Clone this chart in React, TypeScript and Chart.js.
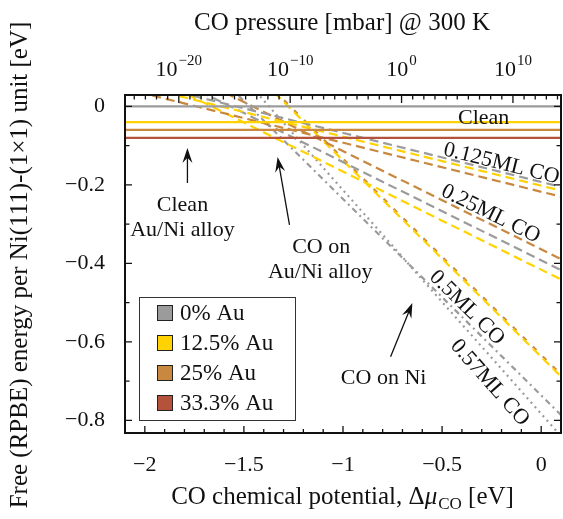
import React, { useEffect, useRef } from 'react';
import { Chart, registerables } from 'chart.js';
Chart.register(...registerables);

// ---------- data ----------
const X_MIN = -2.1;
const X_MAX = 0.1;
const Y_MIN = -0.832;
const Y_MAX = 0.029;

const xMajorLabels = [-2, -1.5, -1, -0.5, 0];
const yMajorLabels = [0, -0.2, -0.4, -0.6, -0.8];
const pressureDecadeLabels = [-20, -10, 0, 10];
const MU_AT_1_MBAR = -0.7045; // Δμ where p = 1 mbar
const MU_PER_DECADE = 0.0562;

const lineEndsX = [-2.1, 0.1];

const cleanAu0 = [0, 0];
const cleanAu125 = [-0.04, -0.04];
const cleanAu25 = [-0.06, -0.06];
const cleanAu333 = [-0.08, -0.08];

const co0125Au0 = [0.07, -0.205];
const co0125Au125 = [0.0605, -0.2145];
const co0125Au25 = [0.045, -0.23];

const co025Au0 = [0.133, -0.417];
const co025Au125 = [0.109, -0.441];
const co025Au25 = [0.161, -0.389];

const co05Au0 = [0.314, -0.786];
const co05Au125 = [0.412, -0.688];
const co05Au25 = [0.417, -0.683];

const co057Au0 = [0.414, -0.84];

const legendNames = ['0% Au', '12.5% Au', '25% Au', '33.3% Au'];

// ---------- styles ----------
const GRAY = '#9b9b9b';
const YELLOW = '#ffd200';
const TAN = '#c8883f';
const RED = '#b5523b';
const legendColors = [GRAY, YELLOW, TAN, RED];
const FONT = "'Liberation Serif', 'Times New Roman', serif";
const TITLE_FS = 25;
const TICK_FS = 22;
const ANN_FS = 22;
const LEG_FS = 23;
const DASH = [9, 5];

function mk(vals: number[], color: string, dash: number[] | undefined, width = 2.2) {
  return {
    data: lineEndsX.map((x, i) => ({ x, y: vals[i] })),
    borderColor: color,
    backgroundColor: color,
    borderWidth: width,
    borderDash: dash || [],
    pointRadius: 0,
    fill: false,
    tension: 0,
  };
}

function drawArrow(ctx: CanvasRenderingContext2D, x1: number, y1: number, x2: number, y2: number) {
  const ang = Math.atan2(y2 - y1, x2 - x1);
  const c = Math.cos(ang), s = Math.sin(ang);
  const L = 15, W = 5;
  ctx.save();
  ctx.strokeStyle = '#111';
  ctx.fillStyle = '#111';
  ctx.lineWidth = 1.3;
  ctx.beginPath();
  ctx.moveTo(x1, y1);
  ctx.lineTo(x2 - 8 * c, y2 - 8 * s);
  ctx.stroke();
  ctx.beginPath();
  ctx.moveTo(x2, y2);
  ctx.lineTo(x2 - L * c + W * s, y2 - L * s - W * c);
  ctx.lineTo(x2 - 0.65 * L * c, y2 - 0.65 * L * s);
  ctx.lineTo(x2 - L * c - W * s, y2 - L * s + W * c);
  ctx.closePath();
  ctx.fill();
  ctx.restore();
}

const decorPlugin = {
  id: 'decor',
  afterDraw(chart: any) {
    const ctx: CanvasRenderingContext2D = chart.ctx;
    const ca = chart.chartArea;
    const xs = chart.scales.x;
    const ys = chart.scales.y;
    const x2 = chart.scales.x2;
    const px = (v: number) => xs.getPixelForValue(v);
    const py = (v: number) => ys.getPixelForValue(v);
    ctx.save();

    // ticks (inward)
    ctx.strokeStyle = '#111';
    ctx.lineWidth = 1.3;
    ctx.beginPath();
    xs.ticks.forEach((t: any) => {
      const major = xMajorLabels.some((m) => Math.abs(m - t.value) < 1e-6);
      const L = major ? 7 : 4;
      const X = px(t.value);
      ctx.moveTo(X, ca.bottom);
      ctx.lineTo(X, ca.bottom - L);
    });
    ys.ticks.forEach((t: any) => {
      const major = yMajorLabels.some((m) => Math.abs(m - t.value) < 1e-6);
      const L = major ? 7 : 4.5;
      const Y = py(t.value);
      ctx.moveTo(ca.left, Y);
      ctx.lineTo(ca.left + L, Y);
      ctx.moveTo(ca.right, Y);
      ctx.lineTo(ca.right - L, Y);
    });
    x2.ticks.forEach((t: any) => {
      const n = Math.round((t.value - MU_AT_1_MBAR) / MU_PER_DECADE);
      const major = pressureDecadeLabels.includes(n);
      const L = major ? 8 : 4.5;
      const X = x2.getPixelForValue(t.value);
      ctx.moveTo(X, ca.top);
      ctx.lineTo(X, ca.top + L);
    });
    ctx.stroke();

    // frame
    ctx.lineWidth = 2;
    ctx.strokeRect(ca.left, ca.top, ca.right - ca.left, ca.bottom - ca.top);

    ctx.fillStyle = '#111';
    // top axis labels 10^n
    const EXP_FS = 15;
    pressureDecadeLabels.forEach((n) => {
      const X = x2.getPixelForValue(MU_AT_1_MBAR + n * MU_PER_DECADE);
      const exp = n < 0 ? '\u2212' + Math.abs(n) : String(n);
      ctx.font = `${TICK_FS}px ${FONT}`;
      const wb = ctx.measureText('10').width;
      ctx.font = `${EXP_FS}px ${FONT}`;
      const we = ctx.measureText(exp).width;
      const x0 = X - (wb + we + 1) / 2;
      ctx.textBaseline = 'alphabetic';
      ctx.textAlign = 'left';
      ctx.font = `${TICK_FS}px ${FONT}`;
      ctx.fillText('10', x0, 76);
      ctx.font = `${EXP_FS}px ${FONT}`;
      ctx.fillText(exp, x0 + wb + 1, 65);
    });

    // top title
    ctx.font = `${TITLE_FS}px ${FONT}`;
    ctx.textAlign = 'center';
    ctx.textBaseline = 'middle';
    const cx = (ca.left + ca.right) / 2 - 1;
    ctx.fillText('CO pressure [mbar] @ 300 K', cx, 23);

    // bottom title with subscript
    {
      const SUB = 17;
      const p1 = 'CO chemical potential, \u0394';
      const p2 = '\u03bc';
      const p3 = 'CO';
      const p4 = ' [eV]';
      ctx.textAlign = 'left';
      ctx.textBaseline = 'alphabetic';
      ctx.font = `${TITLE_FS}px ${FONT}`;
      const w1 = ctx.measureText(p1).width;
      ctx.font = `italic ${TITLE_FS}px ${FONT}`;
      const w2 = ctx.measureText(p2).width;
      ctx.font = `${SUB}px ${FONT}`;
      const w3 = ctx.measureText(p3).width;
      ctx.font = `${TITLE_FS}px ${FONT}`;
      const w4 = ctx.measureText(p4).width;
      let x = cx - (w1 + w2 + w3 + w4) / 2;
      const by = 504;
      ctx.font = `${TITLE_FS}px ${FONT}`;
      ctx.fillText(p1, x, by); x += w1;
      ctx.font = `italic ${TITLE_FS}px ${FONT}`;
      ctx.fillText(p2, x, by); x += w2 + 1;
      ctx.font = `${SUB}px ${FONT}`;
      ctx.fillText(p3, x, by + 5); x += w3;
      ctx.font = `${TITLE_FS}px ${FONT}`;
      ctx.fillText(p4, x, by);
    }

    // y title
    ctx.save();
    ctx.translate(20, (ca.top + ca.bottom) / 2 + 1);
    ctx.rotate(-Math.PI / 2);
    ctx.font = `${TITLE_FS}px ${FONT}`;
    ctx.textAlign = 'center';
    ctx.textBaseline = 'middle';
    ctx.fillText('Free (RPBE) energy per Ni(111)-(1\u00d71) unit [eV]', 0, 0);
    ctx.restore();

    // annotations
    const slopeAngle = (theta: number) => {
      const dpx = px(0) - px(-1);
      const dpy = py(-theta) - py(0);
      return Math.atan2(dpy, dpx);
    };
    const label = (txt: string, x: number, y: number, ang = 0) => {
      ctx.save();
      ctx.translate(px(x), py(y));
      ctx.rotate(ang);
      ctx.font = `${ANN_FS}px ${FONT}`;
      ctx.textAlign = 'center';
      ctx.textBaseline = 'middle';
      ctx.fillText(txt, 0, 0);
      ctx.restore();
    };
    ctx.save();
    ctx.beginPath();
    ctx.rect(ca.left, ca.top, ca.right - ca.left, ca.bottom - ca.top);
    ctx.clip();
    label('Clean', -0.29, -0.029);
    label('0.125ML CO', -0.2, -0.146, slopeAngle(0.125));
    label('0.25ML CO', -0.255, -0.274, slopeAngle(0.25));
    label('0.5ML CO', -0.375, -0.513, slopeAngle(0.5));
    label('0.57ML CO', -0.26, -0.704, slopeAngle(0.57));
    label('CO on Ni', -0.795, -0.692);
    label('Clean', -1.81, -0.251);
    label('Au/Ni alloy', -1.81, -0.315);
    label('CO on', -1.11, -0.36);
    label('Au/Ni alloy', -1.115, -0.422);
    ctx.restore();

    drawArrow(ctx, px(-0.76), py(-0.638), px(-0.65), py(-0.501));
    drawArrow(ctx, px(-1.785), py(-0.195), px(-1.785), py(-0.106));
    drawArrow(ctx, px(-1.27), py(-0.302), px(-1.33), py(-0.129));

    // legend
    {
      const bx = ca.left + 14, byy = ca.bottom - 136, bw = 156, bh = 123;
      ctx.fillStyle = '#fff';
      ctx.fillRect(bx, byy, bw, bh);
      ctx.strokeStyle = '#333';
      ctx.lineWidth = 1;
      ctx.strokeRect(bx + 0.5, byy + 0.5, bw, bh);
      legendNames.forEach((name, i) => {
        const cy = byy + 16 + i * 30;
        ctx.fillStyle = legendColors[i];
        ctx.fillRect(bx + 18, cy - 8, 16, 16);
        ctx.strokeStyle = '#222';
        ctx.lineWidth = 1;
        ctx.strokeRect(bx + 18.5, cy - 7.5, 15, 15);
        ctx.fillStyle = '#111';
        ctx.font = `${LEG_FS}px ${FONT}`;
        ctx.textAlign = 'left';
        ctx.textBaseline = 'middle';
        ctx.fillText(name, bx + 41, cy + 1);
      });
    }
    ctx.restore();
  },
};

export default function App() {
  const ref = useRef<HTMLCanvasElement>(null);
  useEffect(() => {
    document.body.style.margin = '0';
    document.body.style.overflow = 'hidden';
    const canvas = ref.current!;
    const datasets: any[] = [
      mk(cleanAu0, GRAY, undefined),
      mk(cleanAu125, YELLOW, undefined),
      mk(cleanAu25, TAN, undefined),
      mk(cleanAu333, RED, undefined),
      mk(co0125Au0, GRAY, DASH),
      mk(co0125Au125, YELLOW, DASH),
      mk(co0125Au25, TAN, DASH),
      mk(co025Au0, GRAY, DASH),
      mk(co025Au125, YELLOW, DASH),
      mk(co025Au25, TAN, DASH),
      mk(co05Au125, YELLOW, DASH),
      mk(co05Au25, TAN, [5, 9]),
      mk(co05Au0, GRAY, [6, 4, 2, 4]),
      mk(co057Au0, GRAY, [2, 4]),
    ];
    const xTicks: number[] = [];
    for (let i = -21; i <= 1; i++) xTicks.push(i / 10);
    const yTicks: number[] = [];
    for (let i = -8; i <= 0; i++) yTicks.push(i / 10);
    const pTicks: number[] = [];
    for (let n = -24; n <= 14; n++) pTicks.push(MU_AT_1_MBAR + n * MU_PER_DECADE);

    const fmt = (v: number) => (v < 0 ? '\u2212' + String(Math.abs(v)) : String(v));
    const chart = new Chart(canvas, {
      type: 'line',
      data: { datasets },
      options: {
        responsive: false,
        animation: false,
        devicePixelRatio: 1,
        layout: { padding: { left: 0, right: 15, top: 0, bottom: 0 } },
        plugins: { legend: { display: false }, tooltip: { enabled: false } },
        scales: {
          x: {
            type: 'linear',
            position: 'bottom',
            min: X_MIN,
            max: X_MAX,
            afterBuildTicks: (s: any) => { s.ticks = xTicks.map((value) => ({ value })); },
            afterFit: (s: any) => { s.height = 86; },
            grid: { display: false, drawTicks: false },
            border: { display: false },
            ticks: {
              autoSkip: false,
              maxRotation: 0,
              padding: 19,
              color: '#111',
              font: { family: FONT, size: TICK_FS },
              callback: (v: any) => {
                const m = xMajorLabels.find((t) => Math.abs(t - v) < 1e-6);
                return m === undefined ? '' : fmt(m);
              },
            },
          },
          x2: {
            type: 'linear',
            position: 'top',
            min: X_MIN,
            max: X_MAX,
            afterBuildTicks: (s: any) => { s.ticks = pTicks.map((value) => ({ value })); },
            afterFit: (s: any) => { s.height = 95; },
            grid: { display: false, drawTicks: false },
            border: { display: false },
            ticks: { display: false },
          },
          y: {
            type: 'linear',
            position: 'left',
            min: Y_MIN,
            max: Y_MAX,
            afterBuildTicks: (s: any) => { s.ticks = yTicks.map((value) => ({ value })); },
            afterFit: (s: any) => { s.width = 125; },
            grid: { display: false, drawTicks: false },
            border: { display: false },
            ticks: {
              autoSkip: false,
              padding: 20,
              color: '#111',
              font: { family: FONT, size: TICK_FS },
              callback: (v: any) => {
                const m = yMajorLabels.find((t) => Math.abs(t - v) < 1e-6);
                return m === undefined ? '' : fmt(m);
              },
            },
          },
        },
      },
      plugins: [decorPlugin],
    } as any);
    return () => chart.destroy();
  }, []);
  return (
    <div style={{ width: 563, height: 519, overflow: 'hidden', position: 'relative', background: '#fff' }}>
      <canvas ref={ref} width={580} height={519} style={{ width: 580, height: 519, display: 'block' }} />
    </div>
  );
}
